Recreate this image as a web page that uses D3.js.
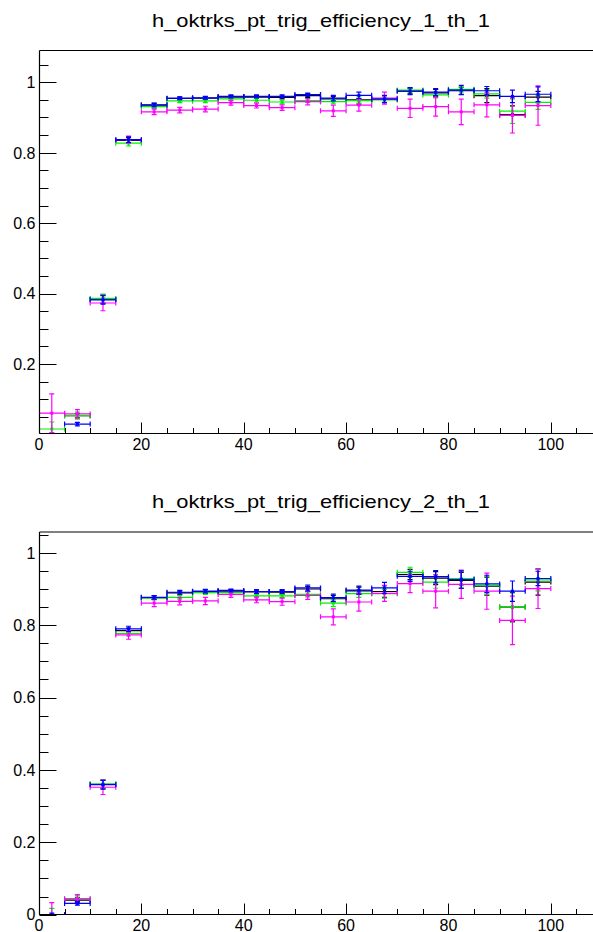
<!DOCTYPE html>
<html>
<head>
<meta charset="utf-8">
<script src="https://cdn.jsdelivr.net/npm/d3@7"></script>
<style>
  body { margin: 0; background: #fff; }
  svg { display: block; }
  text { font-family: "Liberation Sans", Arial, Helvetica, sans-serif; fill: #000; }
</style>
</head>
<body>
<svg id="chart" width="593" height="932"></svg>
<script>
// pT bins (GeV)
const binLow  = [0, 5, 10, 15, 20, 25, 30, 35, 40, 45, 50, 55, 60, 65, 70, 75, 80, 85, 90, 95];
const binHigh = [5, 10, 15, 20, 25, 30, 35, 40, 45, 50, 55, 60, 65, 70, 75, 80, 85, 90, 95, 100];

// axis ticks
const xMajorTicks = [0, 20, 40, 60, 80, 100];
const xMinorTicks = [5, 10, 15, 25, 30, 35, 45, 50, 55, 65, 70, 75, 85, 90, 95, 105];
const xTickLabels = ["0", "20", "40", "60", "80", "100"];
const yMajorTicks = [0, 0.2, 0.4, 0.6, 0.8, 1.0];
const yMinorTicks = [0.05, 0.1, 0.15, 0.25, 0.3, 0.35, 0.45, 0.5, 0.55, 0.65, 0.7, 0.75, 0.85, 0.9, 0.95, 1.05];
const yTickLabels = ["0", "0.2", "0.4", "0.6", "0.8", "1"];

const titles = ["h_oktrks_pt_trig_efficiency_1_th_1", "h_oktrks_pt_trig_efficiency_2_th_1"];

// efficiency, threshold 1 — panel 1
const eff1Black   = [null, 0.053, 0.384, 0.835, 0.935, 0.954, 0.955, 0.958, 0.958, 0.957, 0.962, 0.953, 0.950, 0.953, 0.975, 0.970, 0.976, 0.962, 0.908, 0.958];
const err1Black   = [0, 0.006, 0.012, 0.008, 0.005, 0.004, 0.004, 0.004, 0.004, 0.004, 0.005, 0.007, 0.012, 0.010, 0.008, 0.010, 0.010, 0.020, 0.025, 0.016];
const eff1Green   = [0.015, 0.053, 0.386, 0.827, 0.931, 0.947, 0.947, 0.953, 0.949, 0.944, 0.948, 0.945, 0.948, 0.950, 0.978, 0.964, 0.980, 0.967, 0.918, 0.943];
const err1Green   = [0.020, 0.010, 0.012, 0.008, 0.005, 0.005, 0.005, 0.005, 0.005, 0.005, 0.005, 0.006, 0.007, 0.008, 0.006, 0.008, 0.007, 0.012, 0.035, 0.020];
const eff1Blue    = [null, 0.029, 0.382, 0.837, 0.936, 0.955, 0.956, 0.960, 0.960, 0.960, 0.965, 0.955, 0.963, 0.952, 0.975, 0.972, 0.978, 0.976, 0.960, 0.966];
const err1Blue    = [0, 0.005, 0.012, 0.008, 0.005, 0.004, 0.004, 0.004, 0.004, 0.004, 0.004, 0.008, 0.009, 0.010, 0.010, 0.010, 0.013, 0.012, 0.018, 0.021];
const eff1Magenta = [0.060, 0.058, 0.373, 0.837, 0.916, 0.921, 0.924, 0.942, 0.934, 0.928, 0.945, 0.919, 0.935, 0.955, 0.926, 0.931, 0.916, 0.936, 0.906, 0.934];
const err1Magenta = [0.055, 0.012, 0.022, 0.010, 0.008, 0.008, 0.008, 0.007, 0.007, 0.008, 0.009, 0.016, 0.017, 0.017, 0.026, 0.027, 0.036, 0.034, 0.050, 0.056];

// efficiency, threshold 1 — panel 2
const eff2Black   = [null, 0.040, 0.360, 0.785, 0.876, 0.889, 0.893, 0.894, 0.892, 0.891, 0.900, 0.873, 0.895, 0.893, 0.940, 0.930, 0.924, 0.908, 0.850, 0.919];
const err2Black   = [0, 0.006, 0.012, 0.007, 0.005, 0.005, 0.005, 0.004, 0.005, 0.005, 0.007, 0.009, 0.010, 0.016, 0.014, 0.018, 0.022, 0.025, 0.040, 0.036];
const eff2Green   = [0, 0.044, 0.361, 0.777, 0.875, 0.877, 0.890, 0.890, 0.881, 0.881, 0.885, 0.861, 0.887, 0.887, 0.946, 0.919, 0.929, 0.910, 0.850, 0.925];
const err2Green   = [0.017, 0.008, 0.012, 0.007, 0.005, 0.005, 0.005, 0.005, 0.005, 0.005, 0.007, 0.010, 0.010, 0.012, 0.014, 0.017, 0.020, 0.025, 0.042, 0.030];
const eff2Blue    = [0, 0.031, 0.359, 0.790, 0.877, 0.891, 0.894, 0.896, 0.893, 0.893, 0.903, 0.876, 0.897, 0.903, 0.935, 0.934, 0.926, 0.914, 0.894, 0.929];
const err2Blue    = [0.004, 0.005, 0.012, 0.007, 0.005, 0.005, 0.005, 0.004, 0.005, 0.005, 0.008, 0.010, 0.011, 0.015, 0.014, 0.017, 0.024, 0.024, 0.028, 0.020];
const eff2Magenta = [0, 0.043, 0.352, 0.773, 0.861, 0.866, 0.867, 0.885, 0.870, 0.865, 0.882, 0.823, 0.864, 0.888, 0.915, 0.894, 0.913, 0.894, 0.813, 0.901];
const err2Magenta = [0.033, 0.012, 0.020, 0.012, 0.010, 0.010, 0.010, 0.008, 0.008, 0.010, 0.011, 0.022, 0.025, 0.022, 0.025, 0.046, 0.039, 0.050, 0.067, 0.055];

const seriesColors = { black: "#000000", green: "#00f000", blue: "#0000ff", magenta: "#ff00ff" };

const panels = [
  {
    title: titles[0], titleY: 27,
    frameTop: 50.5, axisY: 433.5, y0: 434.3, y1: 82.3,
    series: [
      { vals: eff1Black,   errs: err1Black,   color: seriesColors.black },
      { vals: eff1Green,   errs: err1Green,   color: seriesColors.green },
      { vals: eff1Magenta, errs: err1Magenta, color: seriesColors.magenta },
      { vals: eff1Blue,    errs: err1Blue,    color: seriesColors.blue }
    ]
  },
  {
    title: titles[1], titleY: 508,
    frameTop: 532, axisY: 914.5, y0: 914.6, y1: 552.8,
    series: [
      { vals: eff2Black,   errs: err2Black,   color: seriesColors.black },
      { vals: eff2Green,   errs: err2Green,   color: seriesColors.green },
      { vals: eff2Magenta, errs: err2Magenta, color: seriesColors.magenta },
      { vals: eff2Blue,    errs: err2Blue,    color: seriesColors.blue }
    ]
  }
];

const svg = d3.select("#chart");
const x = d3.scaleLinear().domain([0, 110]).range([39, 602]);
const axisX = 39.5;

panels.forEach((p, pi) => {
  const y = d3.scaleLinear().domain([0, 1]).range([p.y0, p.y1]);
  const g = svg.append("g");
  const inFrame = v => y(v) >= p.frameTop - 0.5 && y(v) <= p.axisY + 0.5;

  // title
  g.append("text")
    .attr("x", 321).attr("y", p.titleY)
    .attr("text-anchor", "middle")
    .attr("font-size", 19)
    .attr("textLength", 338)
    .attr("lengthAdjust", "spacingAndGlyphs")
    .text(p.title);

  // clip region for the data
  const clipId = "clip" + pi;
  g.append("clipPath").attr("id", clipId)
    .append("rect")
    .attr("x", axisX).attr("y", p.frameTop)
    .attr("width", 593 - axisX).attr("height", p.axisY - p.frameTop);

  const data = g.append("g").attr("clip-path", `url(#${clipId})`);

  p.series.forEach(s => {
    const pts = binLow.map((lo, i) => ({ lo, hi: binHigh[i], v: s.vals[i], e: s.errs[i] }))
      .filter(d => d.v !== null);
    const sg = data.append("g")
      .attr("stroke", s.color).attr("fill", s.color)
      .attr("stroke-width", 1.2);
    const cx = d => x((d.lo + d.hi) / 2);
    // horizontal bin-width bars
    sg.selectAll("line.h").data(pts).join("line").attr("class", "h")
      .attr("x1", d => x(d.lo)).attr("x2", d => x(d.hi))
      .attr("y1", d => y(d.v)).attr("y2", d => y(d.v));
    // end caps at bin edges
    ["lo", "hi"].forEach(k => {
      sg.selectAll("line.c" + k).data(pts).join("line").attr("class", "c" + k)
        .attr("x1", d => x(d[k])).attr("x2", d => x(d[k]))
        .attr("y1", d => y(d.v) - 2.5).attr("y2", d => y(d.v) + 2.5);
    });
    // vertical error bars
    sg.selectAll("line.v").data(pts.filter(d => d.e > 0)).join("line").attr("class", "v")
      .attr("x1", cx).attr("x2", cx)
      .attr("y1", d => y(d.v - d.e)).attr("y2", d => y(d.v + d.e));
    [-1, 1].forEach(sgn => {
      sg.selectAll("line.e" + (sgn > 0 ? "p" : "m")).data(pts.filter(d => d.e > 0)).join("line")
        .attr("class", "e" + (sgn > 0 ? "p" : "m"))
        .attr("x1", d => cx(d) - 2.5).attr("x2", d => cx(d) + 2.5)
        .attr("y1", d => y(d.v + sgn * d.e)).attr("y2", d => y(d.v + sgn * d.e));
    });
    // markers
    sg.selectAll("rect.m").data(pts).join("rect").attr("class", "m")
      .attr("stroke", "none")
      .attr("x", d => cx(d) - 1.5).attr("y", d => y(d.v) - 1.5)
      .attr("width", 3).attr("height", 3);
  });

  // frame: top line, left axis, bottom axis
  g.append("line").attr("x1", axisX).attr("x2", 593)
    .attr("y1", p.frameTop).attr("y2", p.frameTop)
    .attr("stroke", "#000").attr("stroke-width", 1);
  g.append("line").attr("x1", axisX).attr("x2", axisX)
    .attr("y1", p.frameTop).attr("y2", p.axisY)
    .attr("stroke", "#000").attr("stroke-width", 1.2);
  g.append("line").attr("x1", axisX).attr("x2", 593)
    .attr("y1", p.axisY).attr("y2", p.axisY)
    .attr("stroke", "#000").attr("stroke-width", 1.2);

  // y ticks (inward)
  g.selectAll("line.ymaj").data(yMajorTicks.filter(inFrame)).join("line").attr("class", "ymaj")
    .attr("x1", axisX).attr("x2", axisX + 17)
    .attr("y1", d => Math.round(y(d)) + 0.5).attr("y2", d => Math.round(y(d)) + 0.5)
    .attr("stroke", "#000").attr("stroke-width", 1);
  g.selectAll("line.ymin").data(yMinorTicks.filter(inFrame)).join("line").attr("class", "ymin")
    .attr("x1", axisX).attr("x2", axisX + 9)
    .attr("y1", d => Math.round(y(d)) + 0.5).attr("y2", d => Math.round(y(d)) + 0.5)
    .attr("stroke", "#000").attr("stroke-width", 1);
  g.selectAll("text.ylab").data(yMajorTicks.map((v, i) => ({ v, t: yTickLabels[i] })).filter(d => inFrame(d.v)))
    .join("text").attr("class", "ylab")
    .attr("x", 35.5).attr("y", d => y(d.v) + 5.8)
    .attr("text-anchor", "end").attr("font-size", 16)
    .text(d => d.t);

  // x ticks (upward)
  g.selectAll("line.xmaj").data(xMajorTicks).join("line").attr("class", "xmaj")
    .attr("x1", d => Math.round(x(d)) + 0.5).attr("x2", d => Math.round(x(d)) + 0.5)
    .attr("y1", p.axisY).attr("y2", p.axisY - 11)
    .attr("stroke", "#000").attr("stroke-width", 1);
  g.selectAll("line.xmin").data(xMinorTicks).join("line").attr("class", "xmin")
    .attr("x1", d => Math.round(x(d)) + 0.5).attr("x2", d => Math.round(x(d)) + 0.5)
    .attr("y1", p.axisY).attr("y2", p.axisY - 5.5)
    .attr("stroke", "#000").attr("stroke-width", 1);
  g.selectAll("text.xlab").data(xMajorTicks.map((v, i) => ({ v, t: xTickLabels[i] })))
    .join("text").attr("class", "xlab")
    .attr("x", d => x(d.v)).attr("y", p.axisY + 16)
    .attr("text-anchor", "middle").attr("font-size", 16)
    .text(d => d.t);
});
</script>
</body>
</html>
